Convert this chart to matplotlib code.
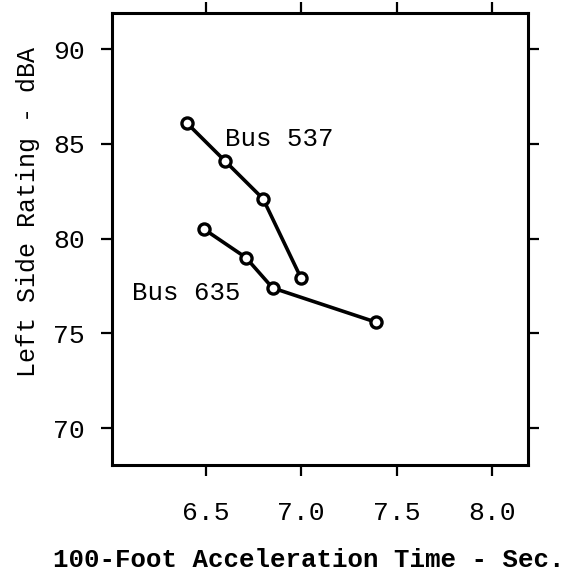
import matplotlib
matplotlib.use("Agg")
import matplotlib.pyplot as plt

# Bus 537 and Bus 635: acceleration time (s) vs left side rating (dBA)
bus537_time = [6.40, 6.60, 6.80, 7.00]
bus537_dba = [86.1, 84.1, 82.1, 77.9]
bus635_time = [6.49, 6.71, 6.85, 7.39]
bus635_dba = [80.5, 79.0, 77.4, 75.6]

xticks = [6.5, 7.0, 7.5, 8.0]
yticks = [70, 75, 80, 85, 90]

FONT = "Liberation Mono"
plt.rcParams["font.family"] = FONT

fig = plt.figure(figsize=(5.66, 5.75), dpi=100)
ax = fig.add_axes([0.197, 0.191, 0.736, 0.787])

for t, d in ((bus537_time, bus537_dba), (bus635_time, bus635_dba)):
    ax.plot(t, d, "-", color="black", lw=2.6, marker="o", ms=8,
            mfc="white", mec="black", mew=2.4, zorder=3)

ax.text(6.60, 85.25, "Bus 537", fontsize=18.5, va="center", ha="left")
ax.text(6.112, 77.12, "Bus 635", fontsize=18.5, va="center", ha="left")

ax.set_xlim(6.005, 8.19)
ax.set_ylim(68.05, 91.92)
ax.set_xticks(xticks)
ax.set_xticklabels([f"{v:.1f}" for v in xticks])
ax.set_yticks(yticks)

for s in ax.spines.values():
    s.set_linewidth(2.2)
ax.tick_params(axis="both", which="both", direction="out", length=8, width=1.6,
               top=True, right=True, labelsize=19)
ax.tick_params(axis="x", pad=18)
ax.tick_params(axis="y", pad=11)

ax.set_xlabel("100-Foot Acceleration Time - Sec.", fontsize=18.5, fontweight="bold",
              va="center")
ax.xaxis.set_label_coords(0.474, -0.21)
ax.set_ylabel("Left Side Rating - dBA", fontsize=18, va="center")
ax.yaxis.set_label_coords(-0.2, 0.56)

fig.savefig("out.png", dpi=100, facecolor="white")
